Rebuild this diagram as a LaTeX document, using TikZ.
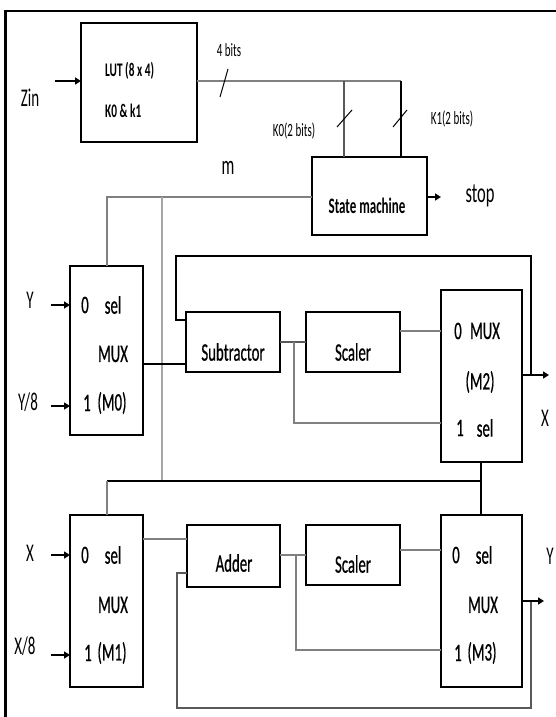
\documentclass[tikz,border=0pt]{standalone}
\usepackage{graphicx}
\usepackage{fontspec}
\setmainfont{Carlito}
\newfontfamily\medf{Carlito}[FakeBold=0.8]
\usetikzlibrary{arrows.meta}
\newcommand{\stx}[1]{\scalebox{1}[1.7]{#1}}
\tikzset{
  box/.style={draw=black, line width=1.3pt, rectangle, inner sep=0pt, outer sep=0pt},
  bk/.style={draw=black, line width=1.2pt},
  gy/.style={draw=black!50, line width=1.6pt},
  gyl/.style={draw=black!35, line width=1.4pt},
  gyd/.style={draw=black!65, line width=1.3pt},
  arr/.style={draw=black, line width=1.6pt, -{Triangle[length=6pt,width=7pt]}},
  frame/.style={draw=black, line width=2.5pt},
  lbl/.style={inner sep=0pt, font=\fontsize{15}{17}\selectfont},
  blk/.style={inner sep=0pt, font=\fontsize{14.8}{17}\medf},
  sml/.style={inner sep=0pt, font=\fontsize{11}{13}\selectfont},
  bsml/.style={inner sep=0pt, font=\fontsize{11.3}{13}\selectfont\bfseries},
}
\begin{document}
\begin{tikzpicture}[x=1pt,y=-1pt]
\useasboundingbox (0,0) rectangle (556,717);
% frame
\coordinate (fTR) at (558,11);
\coordinate (fTL) at (5.5,11);
\coordinate (fBL) at (5.5,719);
\draw[frame] (fTR) -- (fTL) -- (fBL);

% boxes
\node[box, minimum width=116pt, minimum height=119pt] (lut) at (139,82.5) {};
\node[box, minimum width=115pt, minimum height=78pt] (sm) at (369.5,196) {};
\node[box, minimum width=73pt, minimum height=169pt] (m0) at (106.5,350.5) {};
\node[box, minimum width=94pt, minimum height=60pt] (sub) at (233,342) {};
\node[box, minimum width=94pt, minimum height=60pt] (sc1) at (353,342) {};
\node[box, minimum width=81pt, minimum height=172pt] (m2) at (481.5,376) {};
\node[box, minimum width=73pt, minimum height=172pt] (m1) at (106.5,601) {};
\node[box, minimum width=93pt, minimum height=62pt] (add) at (233.5,556) {};
\node[box, minimum width=94pt, minimum height=60pt] (sc2) at (353,555) {};
\node[box, minimum width=81pt, minimum height=172pt] (m3) at (481.5,601) {};

% helper coordinates
\coordinate (y81) at (0,81);
\coordinate (y197) at (0,197);
\coordinate (y364) at (0,364);
\coordinate (y320) at (0,320);
\coordinate (y342) at (0,342);
\coordinate (y331) at (0,331);
\coordinate (y375) at (0,375);
\coordinate (y423) at (0,423);
\coordinate (y539) at (0,539);
\coordinate (y573) at (0,573);
\coordinate (y555) at (0,555);
\coordinate (y550) at (0,550);
\coordinate (y601) at (0,601);
\coordinate (y650) at (0,650);

% top section
\coordinate (zinS) at (55,81);
\draw[arr] (zinS) -- (lut.west |- zinS);
\coordinate (k0c) at (344,81);
\coordinate (k1c) at (401,81);
\draw[gy] (lut.east |- y81) -- (k1c);
\draw[gyd] (k0c) -- (k0c |- sm.north);
\draw[bk] (k1c) -- (k1c |- sm.north);
\coordinate (s4a) at (220,97);  \coordinate (s4b) at (228,69);
\coordinate (s0a) at (337,127); \coordinate (s0b) at (352,110);
\coordinate (s1a) at (393,127); \coordinate (s1b) at (407,110);
\draw[bk, line width=1pt] (s4a) -- (s4b);
\draw[bk, line width=1pt] (s0a) -- (s0b);
\draw[bk, line width=1pt] (s1a) -- (s1b);
\coordinate (stopT) at (441,197);
\draw[arr] (sm.east |- stopT) -- (stopT);

% m / select lines
\coordinate (mL) at (107,197);
\coordinate (mB) at (162,197);
\coordinate (mB2) at (162,481);
\draw[gy] (sm.west |- y197) -- (mL) -- (mL |- m0.north);
\draw[gyl] (mB) -- (mB2);
\coordinate (sL) at (107,481);
\coordinate (sR) at (481,481);
\draw[bk] (sL) -- (sR);
\draw[gy] (sL) -- (sL |- m1.north);
\draw[bk] (m2.south -| sR) -- (sR) -- (sR |- m3.north);

% inputs
\coordinate (inY) at (51,305);
\coordinate (inY8) at (51,406);
\coordinate (inX) at (51,555);
\coordinate (inX8) at (51,655);
\draw[arr] (inY) -- (m0.west |- inY);
\draw[arr] (inY8) -- (m0.west |- inY8);
\draw[arr] (inX) -- (m1.west |- inX);
\draw[arr] (inX8) -- (m1.west |- inX8);

% upper datapath
\draw[bk] (m0.east |- y364) -- (sub.west |- y364);
\coordinate (fbA) at (176,256);
\coordinate (fbB) at (531,256);
\draw[bk] (sub.west |- y320) -| (fbA) -- (fbB) -- (fbB |- y375);
\coordinate (outX) at (549,375);
\draw[arr] (m2.east |- y375) -- (outX);
\draw[gyd] (sub.east |- y342) -- (sc1.west |- y342);
\coordinate (br1) at (294,342);
\draw[gy] (br1) |- (m2.west |- y423);
\draw[gy] (sc1.east |- y331) -- (m2.west |- y331);

% lower datapath
\draw[gy] (m1.east |- y539) -- (add.west |- y539);
\coordinate (fbC) at (177,708);
\coordinate (fbD) at (531,708);
\draw[gyd] (add.west |- y573) -| (fbC) -- (fbD) -- (fbD |- y601);
\coordinate (outY) at (544,601);
\draw[arr] (m3.east |- y601) -- (outY);
\draw[gy] (add.east |- y555) -- (sc2.west |- y555);
\coordinate (br2) at (296,555);
\draw[gy] (br2) |- (m3.west |- y650);
\draw[gy] (sc2.east |- y550) -- (m3.west |- y550);

% texts
\node[lbl] (tZin) at (30,98) {\stx{Zin}};
\node[bsml, anchor=west] (tLut) at (105,71) {\stx{LUT (8 x 4)}};
\node[bsml, anchor=west] (tK) at (105,111) {\stx{K0 \& k1}};
\node[sml] (t4b) at (229,50) {\stx{4 bits}};
\node[sml] (tK0) at (294,131) {\stx{K0(2 bits)}};
\node[sml] (tK1) at (452,119) {\stx{K1(2 bits)}};
\node[inner sep=0pt, font=\fontsize{13}{15}\selectfont\bfseries] (tSM) at (367,206) {\stx{State machine}};
\node[inner sep=0pt, font=\fontsize{16.5}{18}\selectfont] (tStop) at (480,196) {\stx{stop}};
\node[inner sep=0pt, font=\fontsize{16}{18}\selectfont] (tm) at (228,168) {\stx{m}};

\node[lbl] (tY) at (30,300) {\stx{Y}};
\node[lbl] (tY8) at (28,402) {\stx{Y/8}};
\node[lbl] (tX) at (30,553) {\stx{X}};
\node[lbl] (tX8) at (25,646) {\stx{X/8}};
\node[lbl] (tXo) at (545,418) {\stx{X}};
\node[lbl] (tYo) at (550,556) {\stx{Y}};

\node[blk] (tSub) at (233,352) {\stx{Subtractor}};
\node[blk] (tSc1) at (353,352) {\stx{Scaler}};
\node[blk] (tAdd) at (234,563) {\stx{Adder}};
\node[blk] (tSc2) at (353,564) {\stx{Scaler}};

% M0
\node[blk] (a0) at (85,305) {\stx{0}};
\node[blk] (a1) at (113,305) {\stx{sel}};
\node[blk] (a2) at (113,354) {\stx{MUX}};
\node[blk] (a3) at (87,403) {\stx{1}};
\node[blk] (a4) at (112,403) {\stx{(M0)}};
% M1
\node[blk] (b0) at (85,555) {\stx{0}};
\node[blk] (b1) at (113,555) {\stx{sel}};
\node[blk] (b2) at (113,605) {\stx{MUX}};
\node[blk] (b3) at (88,653) {\stx{1}};
\node[blk] (b4) at (112,653) {\stx{(M1)}};
% M2
\node[blk] (c0) at (458,331) {\stx{0}};
\node[blk] (c1) at (485,331) {\stx{MUX}};
\node[blk] (c2) at (480,382) {\stx{(M2)}};
\node[blk] (c3) at (460,428) {\stx{1}};
\node[blk] (c4) at (485,428) {\stx{sel}};
% M3
\node[blk] (d0) at (456,555) {\stx{0}};
\node[blk] (d1) at (484,555) {\stx{sel}};
\node[blk] (d2) at (483,605) {\stx{MUX}};
\node[blk] (d3) at (458,653) {\stx{1}};
\node[blk] (d4) at (482,653) {\stx{(M3)}};
\end{tikzpicture}
\end{document}
